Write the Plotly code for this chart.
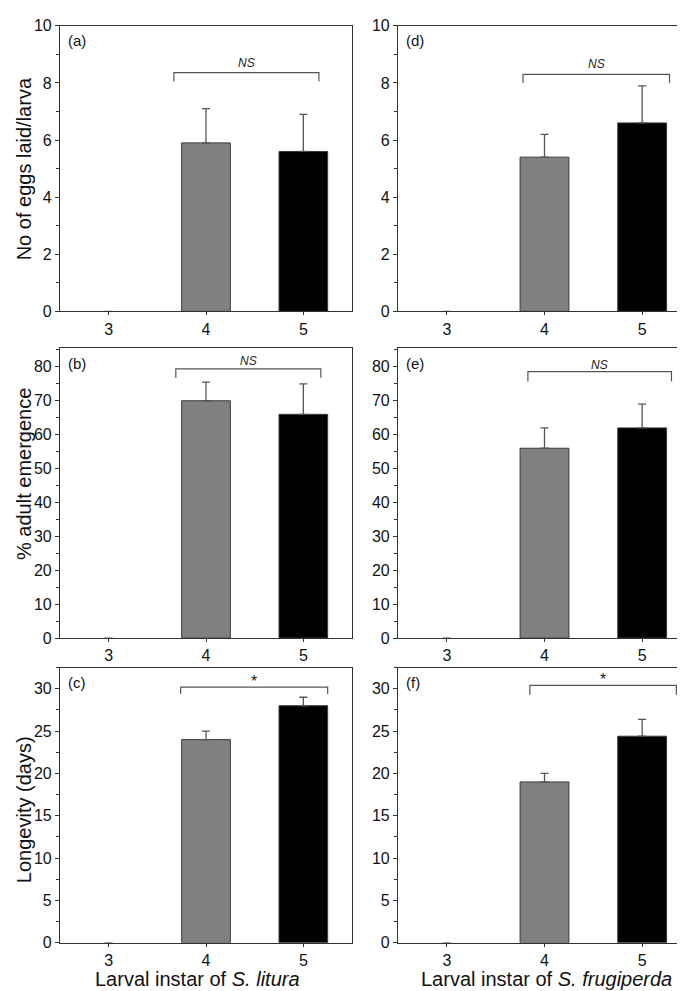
import plotly.graph_objects as go

# ---------------- data ----------------
instars = [3, 4, 5]
bar_colors = ["#808080", "#808080", "#000000"]

# S. litura (left column)
eggs_litura = [0, 5.9, 5.6]
eggs_litura_err = [0, 1.2, 1.3]
emerg_litura = [0, 70, 66]
emerg_litura_err = [0, 5.5, 9]
longev_litura = [0, 24, 28]
longev_litura_err = [0, 1.0, 1.0]

# S. frugiperda (right column)
eggs_frugi = [0, 5.4, 6.6]
eggs_frugi_err = [0, 0.8, 1.3]
emerg_frugi = [0, 56, 62]
emerg_frugi_err = [0, 6, 7]
longev_frugi = [0, 19, 24.4]
longev_frugi_err = [0, 1.0, 2.0]

panel_labels = ["(a)", "(b)", "(c)", "(d)", "(e)", "(f)"]
sig_labels = ["<i>NS</i>", "<i>NS</i>", "*", "<i>NS</i>", "<i>NS</i>", "*"]
# bracket: x start, x end, top y, leg bottom y, label y
brackets = [
    (3.67, 5.16, 8.36, 8.05, 8.7),
    (3.69, 5.18, 79.4, 76.8, 81.6),
    (3.74, 5.25, 30.2, 29.4, 30.9),
    (3.78, 5.28, 8.3, 8.0, 8.65),
    (3.83, 5.30, 78.6, 75.7, 80.6),
    (3.85, 5.35, 30.4, 29.3, 31.1),
]
y_ranges = [(0, 10), (0, 85.5), (0, 32.5), (0, 10), (0, 85.5), (0, 32.5)]
y_dticks = [2, 10, 5, 2, 10, 5]
y_titles = ["No of eggs laid/larva", "% adult emergence", "Longevity (days)"]
x_titles = ["Larval instar of <i>S. litura</i>", "Larval instar of <i>S. frugiperda</i>"]

values = [eggs_litura, emerg_litura, longev_litura, eggs_frugi, emerg_frugi, longev_frugi]
errors = [eggs_litura_err, emerg_litura_err, longev_litura_err,
          eggs_frugi_err, emerg_frugi_err, longev_frugi_err]

# ---------------- layout geometry (pixels) ----------------
W, H = 685, 991


def fx(px):
    return px / W


def fy(py):
    return 1 - py / H


cols_px = [(52, 344), (390, 683)]
rows_px = [(10, 300.5), (338, 633), (663, 943)]
FONT = "Liberation Sans, Arial, sans-serif"
AX = "#333333"

fig = go.Figure()
layout = dict(
    width=W, height=H,
    margin=dict(l=0, r=0, t=0, b=0),
    paper_bgcolor="white", plot_bgcolor="white",
    showlegend=False, font=dict(family=FONT, color="#111111"),
)
shapes = []
annotations = []

for i in range(6):
    col, row = i // 3, i % 3
    n = i + 1
    xa = "x" if n == 1 else f"x{n}"
    ya = "y" if n == 1 else f"y{n}"
    # no error cap for empty (zero) bars
    err_plus = [e if v != 0 else None for v, e in zip(values[i], errors[i])]
    err_minus = [0 if v != 0 else None for v in values[i]]
    fig.add_trace(go.Bar(
        x=instars, y=values[i], xaxis=xa, yaxis=ya, width=0.5,
        marker=dict(color=bar_colors,
                    line=dict(color="#3a3a3a", width=[0 if v == 0 else 1 for v in values[i]])),
        error_y=dict(type="data", symmetric=False, array=err_plus,
                     arrayminus=err_minus, color="#555555", thickness=1.3, width=4),
    ))
    x0p, x1p = cols_px[col]
    t, b = rows_px[row]
    xkey = "xaxis" if n == 1 else f"xaxis{n}"
    ykey = "yaxis" if n == 1 else f"yaxis{n}"
    layout[xkey] = dict(
        domain=[fx(x0p), fx(x1p)], anchor=ya, range=[2.5, 5.5],
        tickvals=instars, ticks="outside", ticklen=3, tickcolor=AX,
        showline=True, linecolor=AX, linewidth=1.2, mirror=True,
        showgrid=False, zeroline=False, tickfont=dict(size=16, family=FONT),
        fixedrange=True,
    )
    layout[ykey] = dict(
        domain=[fy(b), fy(t)], anchor=xa, range=list(y_ranges[i]),
        dtick=y_dticks[i], tick0=0, ticks="outside", ticklen=4, tickcolor=AX,
        minor=dict(ticks="outside", ticklen=2.5, dtick=y_dticks[i] / 2, tickcolor=AX, showgrid=False),
        showline=True, linecolor=AX, linewidth=1.2, mirror=True,
        showgrid=False, zeroline=False, tickfont=dict(size=16, family=FONT),
        fixedrange=True,
    )
    # significance bracket
    bx0, bx1, btop, bbot, ly = brackets[i]
    shapes.append(dict(
        type="path", xref=xa, yref=ya,
        path=f"M {bx0},{bbot} L {bx0},{btop} L {bx1},{btop} L {bx1},{bbot}",
        line=dict(color="#555555", width=1.2),
    ))
    is_star = sig_labels[i] == "*"
    annotations.append(dict(
        x=(bx0 + bx1) / 2, y=ly, xref=xa, yref=ya, text=sig_labels[i],
        showarrow=False, yanchor="middle", xanchor="center",
        font=dict(size=16 if is_star else 12, family=FONT, color="#222222"),
    ))
    # panel label
    annotations.append(dict(
        x=0.02, y=0.985, xref=f"{xa} domain", yref=f"{ya} domain",
        text=panel_labels[i], showarrow=False, xanchor="left", yanchor="top",
        font=dict(size=15, family=FONT, color="#111111"),
    ))

# y-axis titles (left column)
title_centers_y = [156, 466, 808]
for r in range(3):
    annotations.append(dict(
        x=fx(16), y=fy(title_centers_y[r]), xref="paper", yref="paper",
        text=y_titles[r], textangle=-90, showarrow=False,
        xanchor="center", yanchor="middle",
        font=dict(size=20, family=FONT, color="#111111"),
    ))
# x-axis titles
x_title_centers = [189, 538]
for c in range(2):
    annotations.append(dict(
        x=fx(x_title_centers[c]), y=fy(980), xref="paper", yref="paper",
        text=x_titles[c], showarrow=False, xanchor="center", yanchor="middle",
        font=dict(size=20, family=FONT, color="#111111"),
    ))

layout["shapes"] = shapes
layout["annotations"] = annotations
fig.update_layout(**layout)
fig.write_html("out.html")
